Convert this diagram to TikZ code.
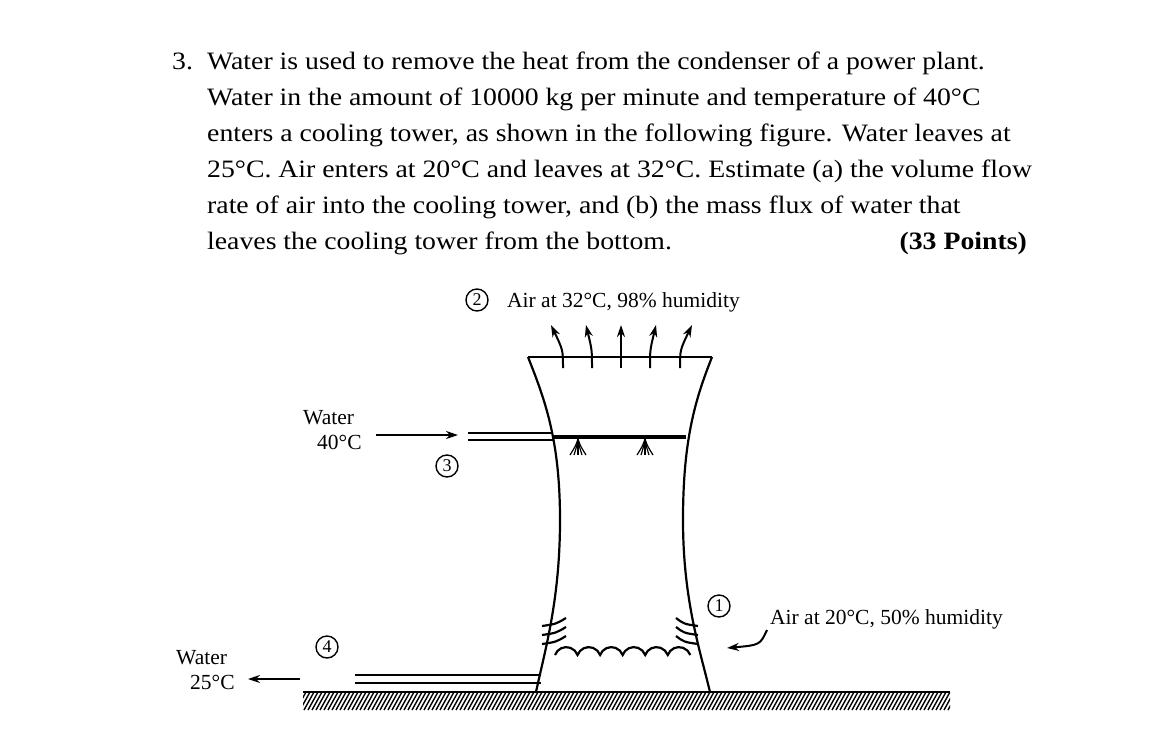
\documentclass[tikz,border=0pt]{standalone}
\usepackage{fontspec}
\setmainfont{Liberation Serif}
\newfontfamily\probfont[FakeStretch=1.11]{Liberation Serif}
\usetikzlibrary{arrows.meta}
\tikzset{
 ptext/.style={anchor=base west,inner sep=0pt,font=\probfont\fontsize{25}{30}\selectfont},
 flab/.style={anchor=base west,inner sep=0pt,font=\fontsize{21.5}{25}\selectfont},
 num/.style={circle,draw,line width=1.4pt,inner sep=0pt,minimum size=22pt,font=\fontsize{18}{18}\selectfont},
 ln/.style={line width=2.2pt},
 arr/.style={line width=2pt,-{Stealth[length=12pt,width=8pt]}},
}
\begin{document}
\begin{tikzpicture}[x=1pt,y=-1pt]
\useasboundingbox (0,0) rectangle (1170,753);
\node[ptext] (t0) at (172,69) {3.};
\node[ptext] (t1) at (207,69) {Water is used to remove the heat from the condenser of a power plant.};
\node[ptext] (t2) at (207,105) {Water in the amount of 10000 kg per minute and temperature of 40°C};
\node[ptext] (t3) at (207,141) {enters a cooling tower, as shown in the following figure. Water leaves at};
\node[ptext] (t4) at (207,177) {25°C. Air enters at 20°C and leaves at 32°C. Estimate (a) the volume flow};
\node[ptext] (t5) at (207,213) {rate of air into the cooling tower, and (b) the mass flux of water that};
\node[ptext] (t6) at (207,249) {leaves the cooling tower from the bottom.};
\node[ptext,anchor=base east,font=\probfont\fontsize{25}{30}\selectfont\bfseries] (t7) at (1027,249) {(33 Points)};
% tower
\draw[ln] (528,357) -- (712,357);
\draw[ln] (528,357) .. controls (545,400) and (560,440) .. (560,520) .. controls (560,600) and (545,650) .. (536,692);
\draw[ln] (712,357) .. controls (695,400) and (683,440) .. (683,520) .. controls (683,600) and (700,650) .. (710,692);
% ground
\begin{scope}
\clip (303,692) rectangle (950,710);
\foreach \x in {296,300,...,950}{\draw[line width=1.4pt] (\x,710) -- (\x+10,692);}
\end{scope}
\draw[line width=2.5pt] (303,692) -- (950,692);
% top arrows
\foreach \x/\b in {563/-12,592/-6,621/0,650/6,680/12}{
 \draw[arr] (\x,368) .. controls (\x,350) .. (\x+\b,325);
}
\node[num] (c2) at (477,300) {2};
\node[flab] (a2) at (507,307) {Air at 32°C, 98\% humidity};
% inlet
\draw[line width=4pt] (553,437) -- (686,437);
\draw[ln] (468,433) -- (553,433);
\draw[ln] (468,440) -- (553,440);
\node[flab,align=left,anchor=north west] (w1) at (303,410) {Water\\\hspace*{14pt}40°C};
\draw[arr] (376,435) -- (458,435);
\node[num] (c3) at (447,466) {3};
% sprays
\foreach \x in {578,645}{
 \foreach \d in {-8,-4,0,4,8}{\draw[line width=1.2pt] (\x,439) .. controls (\x+\d*0.3,446) .. (\x+\d,455);}
}
% bottom outlet
\draw[ln] (355,675) -- (541,675);
\draw[ln] (355,683) -- (541,683);
\draw[arr] (300,679) -- (248,679);
\node[flab,align=left,anchor=north west] (w2) at (176,650) {Water\\\hspace*{14pt}25°C};
\node[num] (c4) at (327,647) {4};
% waves
\draw[ln] (555,655) \foreach \i in {0,...,5}{ arc[start angle=200,end angle=340,radius=12] } ;
% louvers
\foreach \y in {618,627,636}{
 \draw[ln] (542,\y+8) .. controls (556,\y+6) .. (566,\y);
 \draw[ln] (698,\y+8) .. controls (684,\y+6) .. (676,\y);
}
\node[num] (c1) at (719,606) {1};
\node[flab] (a1) at (770,624) {Air at 20°C, 50\% humidity};
\coordinate (ae) at (727,648);
\draw[arr] (767,630) .. controls (760,645) .. (ae);
\end{tikzpicture}
\end{document}
